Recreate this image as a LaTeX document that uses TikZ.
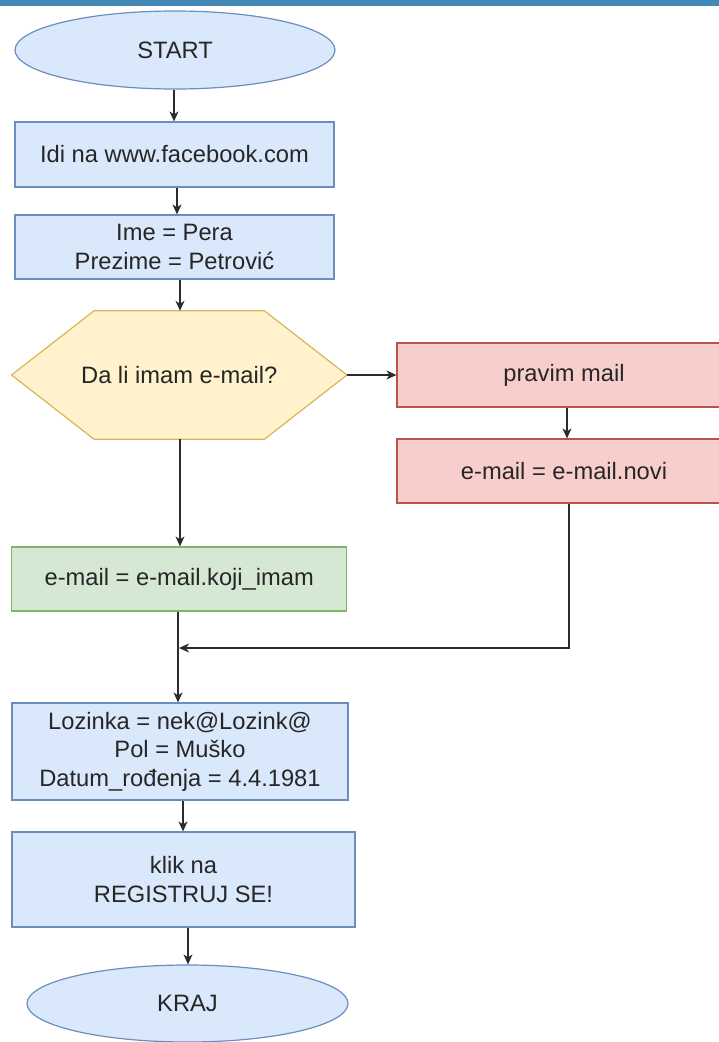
\documentclass[tikz,border=0pt]{standalone}
\usepackage{fontspec}
\setmainfont{Liberation Sans}
\usetikzlibrary{shapes.geometric,arrows.meta,backgrounds}

\definecolor{blueFill}{HTML}{DAE8FC}
\definecolor{blueLine}{HTML}{6C8EBF}
\definecolor{yellowFill}{HTML}{FFF2CC}
\definecolor{yellowLine}{HTML}{D6B656}
\definecolor{redFill}{HTML}{F8CECC}
\definecolor{redLine}{HTML}{B85450}
\definecolor{greenFill}{HTML}{D5E8D4}
\definecolor{greenLine}{HTML}{82B366}
\definecolor{textGray}{HTML}{262626}
\definecolor{edgeGray}{HTML}{2B2B2B}
\definecolor{barBlue}{HTML}{4289B8}

\tikzset{
  label font/.style={font=\fontsize{23.7pt}{28.6pt}\selectfont, text=textGray, align=center},
  terminal/.style={ellipse, draw=blueLine, fill=blueFill, line width=1.2pt, label font, inner sep=0pt},
  bluebox/.style={rectangle, draw=blueLine, fill=blueFill, line width=1.2pt, label font, inner sep=0pt},
  redbox/.style={rectangle, draw=redLine, fill=redFill, line width=1.2pt, label font, inner sep=0pt},
  greenbox/.style={rectangle, draw=greenLine, fill=greenFill, line width=1.2pt, label font, inner sep=0pt},
  decision/.style={draw=yellowLine, fill=yellowFill, line width=1.2pt},
  flow/.style={draw=edgeGray, line width=1.2pt, -{Stealth[length=10pt,width=9pt,inset=3pt]}}
}

\begin{document}
\begin{tikzpicture}[x=1pt,y=-1pt]
\useasboundingbox (0,0) rectangle (719,1042);

% header strip
\fill[barBlue] (0,0) rectangle (719,6);

% main column
\node[terminal, minimum width=320pt, minimum height=78pt] (start) at (175,50) {START};
\node[bluebox, minimum width=319pt, minimum height=65pt] (site) at (174.5,154.5) {Idi na www.facebook.com};
\node[bluebox, minimum width=319pt, minimum height=64pt] (name) at (174.5,247) {Ime = Pera\\Prezime = Petrović};

% decision hexagon: text node plus outline behind it
\node[label font, minimum width=335pt, minimum height=128pt, inner sep=0pt] (ask) at (179.25,375) {Da li imam e-mail?};
\begin{scope}[on background layer]
  \draw[decision] (ask.west) -- ([xshift=82.5pt]ask.north west) -- ([xshift=-82.5pt]ask.north east)
    -- (ask.east) -- ([xshift=-82.5pt]ask.south east) -- ([xshift=82.5pt]ask.south west) -- cycle;
\end{scope}

% right branch
\node[redbox, minimum width=334pt, minimum height=64pt] (make) at (564,375) {pravim mail};
\node[redbox, minimum width=334pt, minimum height=64pt] (newmail) at (564,471) {e-mail = e-mail.novi};

% left branch
\node[greenbox, minimum width=335pt, minimum height=64pt] (have) at (179.25,579) {e-mail = e-mail.koji\_imam};

% remaining steps
\node[bluebox, minimum width=336pt, minimum height=97pt] (data) at (180,751.5) {Lozinka = nek@Lozink@\\Pol = Muško\\Datum\_rođenja = 4.4.1981};
\node[bluebox, minimum width=343pt, minimum height=95pt] (click) at (183.5,879.5) {klik na\\REGISTRUJ SE!};
\node[terminal, minimum width=321pt, minimum height=77pt] (stop) at (187.5,1003.5) {KRAJ};

\coordinate (join) at (179,648);

% connectors
\draw[flow] ([xshift=-1pt]start.south) -- ([xshift=-0.5pt]site.north);
\draw[flow] ([xshift=2.5pt]site.south) -- ([xshift=2.5pt]name.north);
\draw[flow] ([xshift=5.5pt]name.south) -- ([xshift=0.75pt]ask.north);
\draw[flow] (ask.east) -- (make.west);
\draw[flow] ([xshift=3pt]make.south) -- ([xshift=3pt]newmail.north);
\draw[flow] ([xshift=0.75pt]ask.south) -- ([xshift=0.75pt]have.north);
\draw[flow] ([xshift=5pt]newmail.south) |- (join);
\draw[flow] ([xshift=-1.25pt]have.south) -- ([xshift=-2pt]data.north);
\draw[flow] ([xshift=3pt]data.south) -- ([xshift=-0.5pt]click.north);
\draw[flow] ([xshift=4.5pt]click.south) -- ([xshift=0.5pt]stop.north);
\end{tikzpicture}
\end{document}
